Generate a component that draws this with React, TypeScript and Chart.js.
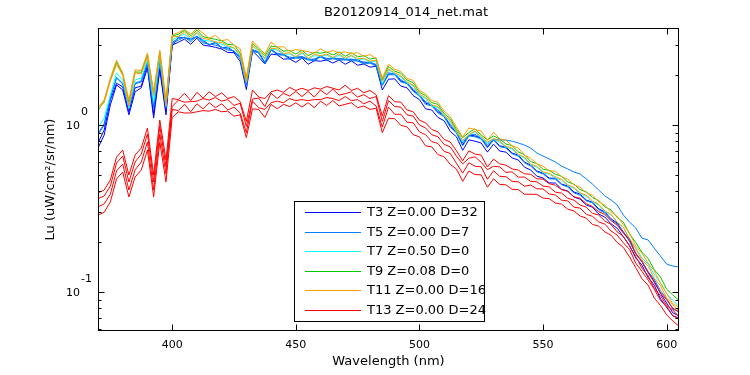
import React, { useEffect, useRef } from "react";
import { Chart, registerables } from "chart.js";

Chart.register(...registerables);

const chartTitle = "B20120914_014_net.mat";
const xTitle = "Wavelength (nm)";
const yTitle = "Lu (uW/cm²/sr/nm)";
const xMin = 370;
const xMax = 605;
const yMin = 0.0584;
const yMax = 3.81;
const xTicks = [400, 450, 500, 550, 600];
const yMajorTicks = [0.1, 1];
const yMajorLabels = [["10", "-1"], ["10", "0"]];
const yMinorTicks = [0.06, 0.07, 0.08, 0.09, 0.2, 0.3, 0.4, 0.5, 0.6, 0.7, 0.8, 0.9, 2, 3];

const groupLabels = [
  "T3 Z=0.00 D=32",
  "T5 Z=0.00 D=7",
  "T7 Z=0.50 D=0",
  "T9 Z=0.08 D=0",
  "T11 Z=0.00 D=16",
  "T13 Z=0.00 D=24",
];
const groupColors = ["#0000ff", "#0080ff", "#00ffff", "#00c800", "#ff9a00", "#ff0000"];

const wavelengths = [
  370, 372.5, 375, 377.5, 380, 382.5, 385, 387.5, 390, 392.5, 395, 397.5, 400, 402.5, 405, 407.5,
  410, 412.5, 415, 417.5, 420, 422.5, 425, 427.5, 430, 432.5, 435, 437.5, 440, 442.5, 445, 447.5,
  450, 452.5, 455, 457.5, 460, 462.5, 465, 467.5, 470, 472.5, 475, 477.5, 480, 482.5, 485, 487.5,
  490, 492.5, 495, 497.5, 500, 502.5, 505, 507.5, 510, 512.5, 515, 517.5, 520, 522.5, 525, 527.5,
  530, 532.5, 535, 537.5, 540, 542.5, 545, 547.5, 550, 552.5, 555, 557.5, 560, 562.5, 565, 567.5,
  570, 572.5, 575, 577.5, 580, 582.5, 585, 587.5, 590, 592.5, 595, 597.5, 600, 602.5, 605,
];

const t3a = [
  0.78, 0.933, 1.41, 1.78, 1.69, 1.2, 1.67, 1.71, 2.29, 1.16, 2.2, 1.2, 3.01,
  3.13, 3.27, 3.04, 3.31, 3.01, 2.97, 2.92, 2.85, 2.72, 2.71, 2.4, 1.63, 2.78, 2.55, 2.32, 2.66, 2.63, 2.48, 2.49, 2.37,
  2.52, 2.31, 2.43, 2.41, 2.45, 2.35, 2.45, 2.31, 2.42, 2.28, 2.32, 2.22, 2.25, 1.62,
  1.88, 1.89, 1.71, 1.67, 1.5, 1.42, 1.25, 1.23, 1.11, 1.06, 0.915, 0.85, 0.705, 0.815, 0.8, 0.78, 0.688, 0.768,
  0.698, 0.688, 0.635, 0.617, 0.559, 0.538, 0.494, 0.482, 0.45, 0.449, 0.413, 0.402, 0.37, 0.36, 0.332, 0.322,
  0.293, 0.281, 0.256, 0.241, 0.214, 0.19, 0.16, 0.145, 0.122, 0.11, 0.091, 0.081, 0.072, 0.07,
];
const t3b = [
  0.728, 0.871, 1.32, 1.74, 1.62, 1.15, 1.58, 1.67, 2.2, 1.1, 2.14, 1.15, 2.97,
  3.36, 3.33, 3.28, 3.37, 3.23, 3.01, 3.14, 2.89, 2.93, 2.74, 2.59, 1.75, 2.81, 2.74, 2.35, 2.85, 2.66, 2.66, 2.51, 2.56,
  2.55, 2.49, 2.45, 2.59, 2.48, 2.53, 2.48, 2.49, 2.45, 2.46, 2.35, 2.39, 2.28, 1.75, 2.02, 2.03, 1.83, 1.79, 1.61, 1.51,
  1.35, 1.32, 1.2, 1.14, 0.985, 0.905, 0.76, 0.87, 0.86, 0.835, 0.74, 0.823, 0.75, 0.737, 0.68, 0.66, 0.6, 0.575,
  0.53, 0.515, 0.481, 0.48, 0.443, 0.431, 0.397, 0.386, 0.355, 0.345, 0.315, 0.302, 0.274, 0.259, 0.229, 0.203, 0.169,
  0.152, 0.131, 0.116, 0.098, 0.086, 0.075, 0.072,
];
const t5a = [
  0.871, 1.0, 1.45, 1.91, 1.76, 1.26, 1.76, 1.81, 2.35, 1.26, 2.4, 1.26, 3.1,
  3.22, 3.36, 3.15, 3.41, 3.1, 3.05, 3.01, 2.93, 2.81, 2.78, 2.48, 1.73, 2.77, 2.7, 2.33, 2.82, 2.62, 2.63, 2.48, 2.52,
  2.51, 2.46, 2.42, 2.56, 2.44, 2.5, 2.44, 2.46, 2.42, 2.42, 2.32, 2.35, 2.25, 1.73, 2.0, 2.0, 1.81, 1.77, 1.59, 1.49,
  1.33, 1.3, 1.18, 1.12, 0.97, 0.895, 0.75, 0.86, 0.85, 0.825, 0.73, 0.812, 0.742, 0.728, 0.672, 0.651, 0.594, 0.568,
  0.524, 0.51, 0.476, 0.474, 0.439, 0.425, 0.392, 0.38, 0.352, 0.341, 0.311, 0.297, 0.271, 0.255, 0.226, 0.201, 0.169,
  0.153, 0.133, 0.119, 0.102, 0.091, 0.079, 0.076,
];
const t5b = [
  0.89, 1.02, 1.47, 1.93, 1.78, 1.28, 1.78, 1.84, 2.38, 1.28, 2.43, 1.28, 3.13,
  3.3, 3.35, 3.22, 3.4, 3.17, 3.03, 3.09, 2.92, 2.87, 2.77, 2.55, 1.73, 2.84, 2.69, 2.38, 2.81, 2.69, 2.62, 2.55, 2.51,
  2.58, 2.45, 2.49, 2.55, 2.51, 2.49, 2.51, 2.45, 2.49, 2.41, 2.39, 2.35, 2.31, 1.73, 2.06, 2.0, 1.87, 1.77, 1.65, 1.5,
  1.38, 1.31, 1.23, 1.13, 1.01, 0.905, 0.78, 0.87, 0.88, 0.835, 0.76, 0.825,
  0.813, 0.813, 0.8, 0.78, 0.759, 0.728, 0.68, 0.652, 0.626, 0.6, 0.568, 0.545, 0.523, 0.509, 0.475, 0.443, 0.408,
  0.376, 0.356, 0.332, 0.289, 0.262, 0.242, 0.21, 0.205, 0.183, 0.164, 0.147, 0.143, 0.141,
];
const t7a = [
  0.96, 1.1, 1.51, 2.05, 1.86, 1.26, 1.86, 1.91, 2.45, 1.37, 2.52, 1.3, 3.23,
  3.38, 3.5, 3.28, 3.55, 3.22, 3.18, 3.13, 3.05, 2.92, 2.89, 2.58, 1.8, 2.97, 2.73, 2.49, 2.85, 2.81, 2.66, 2.66, 2.54,
  2.7, 2.49, 2.6, 2.58, 2.62, 2.52, 2.62, 2.49, 2.6, 2.45, 2.49, 2.38, 2.41, 1.76, 2.14, 2.02, 1.94, 1.78, 1.72, 1.5,
  1.44, 1.3, 1.27, 1.13, 1.05, 0.905, 0.8, 0.87, 0.91, 0.835, 0.78, 0.822, 0.79, 0.738, 0.718, 0.66, 0.633, 0.577,
  0.559, 0.517, 0.508, 0.482, 0.468, 0.433, 0.418, 0.388, 0.375, 0.347, 0.332, 0.302, 0.29, 0.261, 0.244, 0.208, 0.184,
  0.16, 0.147, 0.127, 0.114, 0.098, 0.089, 0.082,
];
const t9a = [
  1.22, 1.4, 1.86, 2.38, 2.02, 1.37, 2.08, 2.07, 2.62, 1.55, 2.74, 1.36,
  3.4, 3.5, 3.68, 3.42, 3.7, 3.38, 3.32, 3.26, 3.19, 3.04, 3.02, 2.69, 1.9, 3.08, 2.85, 2.6, 2.97, 2.93, 2.77, 2.79,
  2.66, 2.81, 2.6, 2.72, 2.69, 2.74, 2.63, 2.74, 2.58, 2.71, 2.56, 2.6, 2.48, 2.52, 1.86, 2.24, 2.1, 2.04, 1.86, 1.79,
  1.57, 1.5, 1.36, 1.33, 1.17, 1.09, 0.94, 0.84, 0.9, 0.95, 0.87, 0.815, 0.86, 0.825, 0.77, 0.75, 0.69, 0.664, 0.604, 0.588,
  0.543, 0.535, 0.507, 0.493, 0.456, 0.443, 0.41, 0.398, 0.368, 0.353, 0.323, 0.31, 0.279, 0.262, 0.223, 0.198, 0.173,
  0.159, 0.136, 0.123, 0.104, 0.096, 0.089,
];
const t11a = [
  1.28, 1.41, 1.91, 2.45, 2.05, 1.41, 2.14, 2.12, 2.7, 1.58, 2.81, 1.41,
  3.46, 3.58, 3.74, 3.5, 3.78, 3.55, 3.3, 3.45, 3.2, 3.25, 3.01, 2.86, 1.91, 3.18, 2.92, 2.66, 3.14, 2.93, 2.94, 2.76,
  2.83, 2.8, 2.75, 2.69, 2.86, 2.72, 2.79, 2.71, 2.74, 2.68, 2.71, 2.58, 2.64, 2.5, 1.91, 2.31, 2.16, 2.09, 1.9, 1.85,
  1.61, 1.54, 1.4, 1.37, 1.21, 1.12, 0.97, 0.847, 0.96, 0.94, 0.92, 0.81, 0.905, 0.826, 0.812, 0.75, 0.728, 0.662, 0.632, 0.586,
  0.567, 0.532, 0.528, 0.489, 0.474, 0.438, 0.424, 0.393, 0.38, 0.347, 0.331, 0.302, 0.284, 0.253, 0.225, 0.189, 0.171,
  0.149, 0.134, 0.113, 0.098, 0.085, 0.081,
];
const t11b = [
  1.26, 1.36, 1.84, 2.3, 1.98, 1.3, 2.05, 2.02, 2.55, 1.5, 2.7, 1.3,
  3.36, 3.4, 3.6, 3.34, 3.58, 3.3, 3.25, 3.14, 3.12, 2.98, 2.9, 2.64, 1.8, 3.0, 2.78, 2.52, 2.88, 2.86, 2.68, 2.71,
  2.56, 2.75, 2.5, 2.65, 2.6, 2.66, 2.54, 2.67, 2.51, 2.62, 2.49, 2.51, 2.41, 2.45, 1.83, 2.17, 2.05, 1.97, 1.81, 1.73,
  1.53, 1.46, 1.32, 1.29, 1.14, 1.06, 0.92, 0.81, 0.875, 0.92, 0.85, 0.79, 0.83, 0.8, 0.745, 0.728, 0.668, 0.642, 0.582, 0.566,
  0.524, 0.513, 0.49, 0.472, 0.438, 0.422, 0.393, 0.379, 0.351, 0.336, 0.306, 0.292, 0.262, 0.244, 0.206, 0.182, 0.156,
  0.143, 0.121, 0.109, 0.092, 0.084, 0.077,
];
const t13a = [
  0.392, 0.408, 0.469, 0.643, 0.708, 0.502, 0.661, 0.728, 0.959, 0.502, 1.07, 0.617,
  1.44, 1.42, 1.55, 1.4, 1.57, 1.45, 1.58, 1.48, 1.56, 1.44, 1.48, 1.38, 1.05, 1.62, 1.47, 1.44, 1.58, 1.62, 1.57, 1.68,
  1.61, 1.66, 1.61, 1.67, 1.64, 1.7, 1.66, 1.62, 1.73, 1.61, 1.66, 1.56, 1.61, 1.52, 1.13, 1.5, 1.38, 1.37, 1.23, 1.2,
  1.07, 1.03, 0.94, 0.91, 0.82, 0.79, 0.7, 0.61, 0.7, 0.67, 0.66, 0.56, 0.625, 0.585, 0.575, 0.546, 0.537, 0.51, 0.507, 0.476,
  0.474, 0.445, 0.436, 0.41, 0.401, 0.372, 0.364, 0.338, 0.325, 0.303, 0.291, 0.268, 0.251, 0.226, 0.207, 0.171, 0.152,
  0.131, 0.114, 0.099, 0.09, 0.08, 0.076,
];
const t13b = [
  0.362, 0.376, 0.431, 0.592, 0.652, 0.456, 0.6, 0.67, 0.883, 0.456, 0.986, 0.561,
  1.29, 1.41, 1.37, 1.38, 1.39, 1.44, 1.41, 1.46, 1.39, 1.42, 1.31, 1.35, 0.98, 1.43, 1.45, 1.29, 1.55, 1.44, 1.55, 1.49,
  1.59, 1.48, 1.59, 1.47, 1.62, 1.52, 1.64, 1.51, 1.54, 1.58, 1.47, 1.52, 1.44, 1.48, 1.05, 1.4, 1.29, 1.28, 1.15, 1.13,
  1.0, 0.96, 0.875, 0.85, 0.765, 0.74, 0.65, 0.585, 0.632, 0.645, 0.598, 0.54, 0.566, 0.561, 0.52, 0.524, 0.487, 0.488, 0.46, 0.457,
  0.431, 0.426, 0.396, 0.391, 0.364, 0.355, 0.332, 0.322, 0.296, 0.289, 0.266, 0.254, 0.229, 0.215, 0.188, 0.163, 0.139,
  0.125, 0.105, 0.095, 0.083, 0.078, 0.071,
];
const t13c = [
  0.323, 0.337, 0.386, 0.531, 0.584, 0.408, 0.538, 0.6, 0.79, 0.408, 0.883, 0.509,
  1.24, 1.22, 1.33, 1.2, 1.34, 1.25, 1.36, 1.27, 1.34, 1.23, 1.28, 1.18, 0.9, 1.39, 1.27, 1.24, 1.36, 1.39, 1.36, 1.44,
  1.4, 1.42, 1.4, 1.42, 1.42, 1.46, 1.44, 1.4, 1.48, 1.4, 1.42, 1.34, 1.39, 1.3, 0.97,
  1.28, 1.16, 1.16, 1.04, 1.03, 0.91, 0.875, 0.795, 0.775, 0.695, 0.675, 0.59, 0.515, 0.594, 0.566, 0.562, 0.473, 0.532,
  0.493, 0.49, 0.46, 0.457, 0.43,
  0.437, 0.415, 0.414, 0.386, 0.381, 0.355, 0.351, 0.322, 0.318, 0.292, 0.284, 0.263, 0.255, 0.232, 0.219, 0.197, 0.18,
  0.149, 0.133, 0.118, 0.104, 0.089, 0.082, 0.072, 0.069,
];
const t13d = [
  0.289, 0.3, 0.347, 0.475, 0.523, 0.371, 0.488, 0.538, 0.708, 0.371, 0.79, 0.456,
  1.11, 1.2, 1.18, 1.18, 1.2, 1.22, 1.21, 1.24, 1.2, 1.21, 1.13, 1.15, 0.84, 1.25, 1.24, 1.11, 1.33, 1.25, 1.33, 1.29,
  1.36, 1.28, 1.36, 1.27, 1.39, 1.31, 1.4, 1.3, 1.33, 1.36, 1.27, 1.3, 1.24, 1.26, 0.9,
  1.1, 1.09, 0.995, 0.975, 0.875, 0.85, 0.75, 0.74, 0.665, 0.645, 0.58, 0.545, 0.46, 0.53, 0.505, 0.503, 0.424,
  0.476, 0.441, 0.438, 0.412, 0.41, 0.385,
  0.385, 0.384, 0.365, 0.362, 0.341, 0.336, 0.313, 0.306, 0.285, 0.277, 0.254, 0.248, 0.229, 0.219, 0.198, 0.185, 0.162,
  0.14, 0.12, 0.11, 0.092, 0.083, 0.073, 0.067, 0.0625,
];

const series = [
  { group: 0, values: t3a },
  { group: 0, values: t3b },
  { group: 1, values: t5a },
  { group: 1, values: t5b },
  { group: 2, values: t7a },
  { group: 3, values: t9a },
  { group: 4, values: t11a },
  { group: 4, values: t11b },
  { group: 5, values: t13a },
  { group: 5, values: t13b },
  { group: 5, values: t13c },
  { group: 5, values: t13d },
];

const FONT = '"DejaVu Sans", "Liberation Sans", sans-serif';

const matlabPlugin = {
  id: "matlabAxes",
  afterDraw(chart: any) {
    const { ctx, chartArea: a, scales } = chart;
    const xs = scales.x;
    const ys = scales.y;
    const L = Math.round(a.left) + 0.5;
    const R = Math.round(a.right) - 0.5;
    const T = Math.round(a.top) + 0.5;
    const B = Math.round(a.bottom) - 0.5;
    ctx.save();
    ctx.strokeStyle = "#000";
    ctx.lineWidth = 1;
    ctx.beginPath();
    for (const v of xTicks) {
      const px = Math.round(xs.getPixelForValue(v)) + 0.5;
      ctx.moveTo(px, B);
      ctx.lineTo(px, B - 6);
      ctx.moveTo(px, T);
      ctx.lineTo(px, T + 6);
    }
    for (const v of yMajorTicks) {
      const py = Math.round(ys.getPixelForValue(v)) + 0.5;
      ctx.moveTo(L, py);
      ctx.lineTo(L + 6, py);
      ctx.moveTo(R, py);
      ctx.lineTo(R - 6, py);
    }
    for (const v of yMinorTicks) {
      const py = Math.round(ys.getPixelForValue(v)) + 0.5;
      ctx.moveTo(L, py);
      ctx.lineTo(L + 3, py);
      ctx.moveTo(R, py);
      ctx.lineTo(R - 3, py);
    }
    ctx.stroke();
    ctx.strokeRect(L, T, R - L, B - T);

    // y tick labels (10^n)
    ctx.fillStyle = "#000";
    ctx.textBaseline = "middle";
    yMajorTicks.forEach((v, i) => {
      const py = ys.getPixelForValue(v);
      ctx.font = `11px ${FONT}`;
      ctx.textAlign = "right";
      ctx.fillText(yMajorLabels[i][0], 80, py + 1);
      ctx.textAlign = "left";
      ctx.fillText(yMajorLabels[i][1], 81, py - 12.5);
    });

    // title
    ctx.font = `13px ${FONT}`;
    ctx.textAlign = "center";
    ctx.fillText(chartTitle, 406, 12.5);

    // legend
    const lx = 294.5;
    const ly = 201.5;
    const lw = 190;
    const lh = 120;
    ctx.fillStyle = "#fff";
    ctx.fillRect(lx, ly, lw, lh);
    groupLabels.forEach((label, i) => {
      const ry = Math.round(212 + i * 19.5) + 0.5;
      ctx.strokeStyle = groupColors[i];
      ctx.lineWidth = 1;
      ctx.beginPath();
      ctx.moveTo(305, ry);
      ctx.lineTo(361, ry);
      ctx.stroke();
      ctx.fillStyle = "#000";
      ctx.font = `13px ${FONT}`;
      ctx.textAlign = "left";
      ctx.textBaseline = "middle";
      ctx.fillText(label, 367, ry + 0.5);
    });
    ctx.strokeStyle = "#000";
    ctx.strokeRect(lx, ly, lw, lh);
    ctx.restore();
  },
};

export default function App() {
  const canvasRef = useRef<HTMLCanvasElement | null>(null);

  useEffect(() => {
    const canvas = canvasRef.current;
    if (!canvas) return;
    const datasets = series.map((s, i) => ({
      label: groupLabels[s.group],
      data: s.values.map((v, k) => ({ x: wavelengths[k], y: v })),
      borderColor: groupColors[s.group],
      backgroundColor: groupColors[s.group],
      borderWidth: 1,
      pointRadius: 0,
      pointHoverRadius: 0,
      fill: false,
      tension: 0,
      order: series.length - i,
    }));
    const chart = new Chart(canvas, {
      type: "line",
      data: { datasets },
      options: {
        responsive: false,
        animation: false,
        devicePixelRatio: 1,
        events: [],
        layout: { padding: { top: 28, right: 71, left: 0, bottom: 0 } },
        plugins: {
          legend: { display: false },
          title: { display: false },
          tooltip: { enabled: false },
        },
        scales: {
          x: {
            type: "linear",
            min: xMin,
            max: xMax,
            afterBuildTicks: (s: any) => {
              s.ticks = xTicks.map((v) => ({ value: v }));
            },
            afterFit: (s: any) => {
              s.height = 44;
            },
            grid: { display: false, drawTicks: false },
            border: { display: false },
            ticks: {
              color: "#000",
              font: { family: FONT, size: 11 },
              padding: 8,
              maxRotation: 0,
              autoSkip: false,
            },
            title: {
              display: true,
              text: xTitle,
              color: "#000",
              font: { family: FONT, size: 13 },
              padding: { top: 0, bottom: 6 },
            },
          },
          y: {
            type: "logarithmic",
            min: yMin,
            max: yMax,
            afterFit: (s: any) => {
              s.width = 98;
            },
            ticks: { display: false },
            grid: { display: false },
            border: { display: false },
            title: {
              display: true,
              text: yTitle,
              color: "#000",
              font: { family: FONT, size: 13 },
              padding: { top: 43, bottom: 0 },
            },
          },
        },
      },
      plugins: [matlabPlugin],
    } as any);
    return () => chart.destroy();
  }, []);

  return (
    <div style={{ position: "absolute", left: 0, top: 0, width: 750, height: 375, background: "#fff" }}>
      <canvas ref={canvasRef} width={750} height={375} style={{ display: "block", width: 750, height: 375 }} />
    </div>
  );
}
